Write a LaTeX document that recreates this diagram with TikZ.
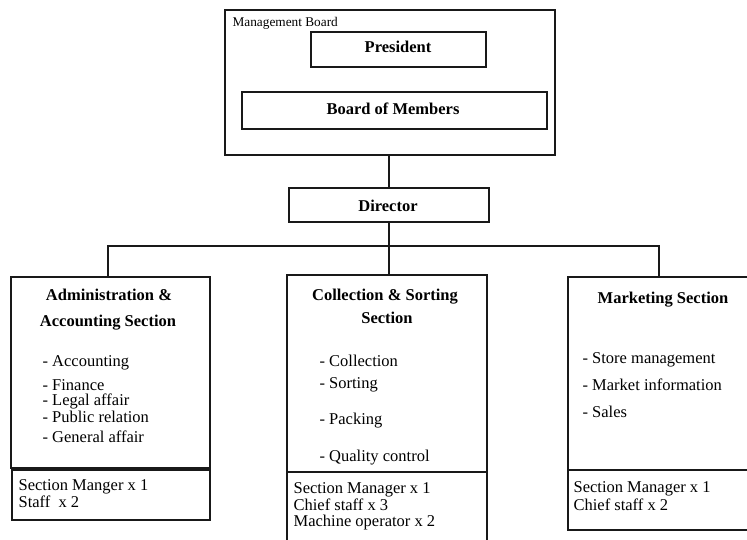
\documentclass[tikz,border=0pt]{standalone}
\usepackage{fontspec}
\setmainfont{Liberation Serif}
\definecolor{orgline}{RGB}{25,25,25}

\begin{document}
\begin{tikzpicture}[x=1pt,y=-1pt,line width=1.2pt,
  box/.style={draw=orgline,rectangle,inner sep=0pt},
  head/.style={font=\fontsize{16.5}{20}\selectfont\bfseries,anchor=base,inner sep=0pt},
  item/.style={font=\fontsize{16.5}{17}\selectfont,anchor=base west,inner sep=0pt}]
  \useasboundingbox (0,0) rectangle (747,540);
  \clip (0,0) rectangle (747,540);
  % management board
  \node[box,minimum width=330pt,minimum height=145pt] (mgmt) at (390,82.5) {};
  \node[item,font=\fontsize{13.3}{15}\selectfont] (mgmtlbl) at (232,27) {Management Board};
  \node[box,minimum width=175pt,minimum height=35pt] (pres) at (398.5,49.5) {};
  \node[head] (prestxt) at (398,53) {President};
  \node[box,minimum width=305pt,minimum height=37pt] (members) at (394.5,110.5) {};
  \node[head] (memberstxt) at (393,115) {Board of Members};
  % director
  \node[box,minimum width=200pt,minimum height=34pt] (dir) at (389,205) {};
  \node[head] (dirtxt) at (388,212) {Director};
  % sections
  \node[box,minimum width=199pt,minimum height=191pt] (admin) at (110.5,372.5) {};
  \node[box,minimum width=198pt,minimum height=50pt] (adminstaff) at (111,495) {};
  \node[box,minimum width=200pt,minimum height=197pt] (coll) at (387,373.5) {};
  \node[box,minimum width=200pt,minimum height=98pt] (collstaff) at (387,521) {};
  \node[box,minimum width=210pt,minimum height=193pt] (mkt) at (673,373.5) {};
  \node[box,minimum width=210pt,minimum height=60pt] (mktstaff) at (673,500) {};
  % connectors
  \coordinate (busL) at (108,246);
  \coordinate (busR) at (659,246);
  \draw[orgline] (mgmt.south -| dir.north) -- (dir.north);
  \draw[orgline] (dir.south) -- (dir.south |- coll.north);
  \draw[orgline] (admin.north -| busL) -- (busL) -- (busR) -- (mkt.north -| busR);
  % administration
  \node[head] (admhead1) at (109,300) {Administration \&};
  \node[head] (admhead2) at (108,326) {Accounting Section};
  \foreach \t/\y [count=\i] in {Accounting/366,Finance/390,Legal affair/405,
      Public relation/422,General affair/442}
    \node[item] (adm\i) at (42,\y) {- \t};
  \node[item] (admstaff1) at (18,490) {Section Manger x 1};
  \node[item] (admstaff2) at (18,507) {Staff\ \ x 2};
  % collection
  \node[head] (colhead1) at (385,300) {Collection \& Sorting};
  \node[head] (colhead2) at (387,323) {Section};
  \foreach \t/\y [count=\i] in {Collection/366,Sorting/388,Packing/424,Quality control/461}
    \node[item] (col\i) at (319,\y) {- \t};
  \foreach \t/\y [count=\i] in {Section Manager x 1/493,Chief staff x 3/510,
      Machine operator x 2/526}
    \node[item] (colstaff\i) at (293,\y) {\t};
  % marketing
  \node[head] (mkthead) at (663,303) {Marketing Section};
  \foreach \t/\y [count=\i] in {Store management/363,Market information/390,Sales/417}
    \node[item] (mkt\i) at (582,\y) {- \t};
  \foreach \t/\y [count=\i] in {Section Manager x 1/492,Chief staff x 2/510}
    \node[item] (mktstaff\i) at (573,\y) {\t};
\end{tikzpicture}
\end{document}
